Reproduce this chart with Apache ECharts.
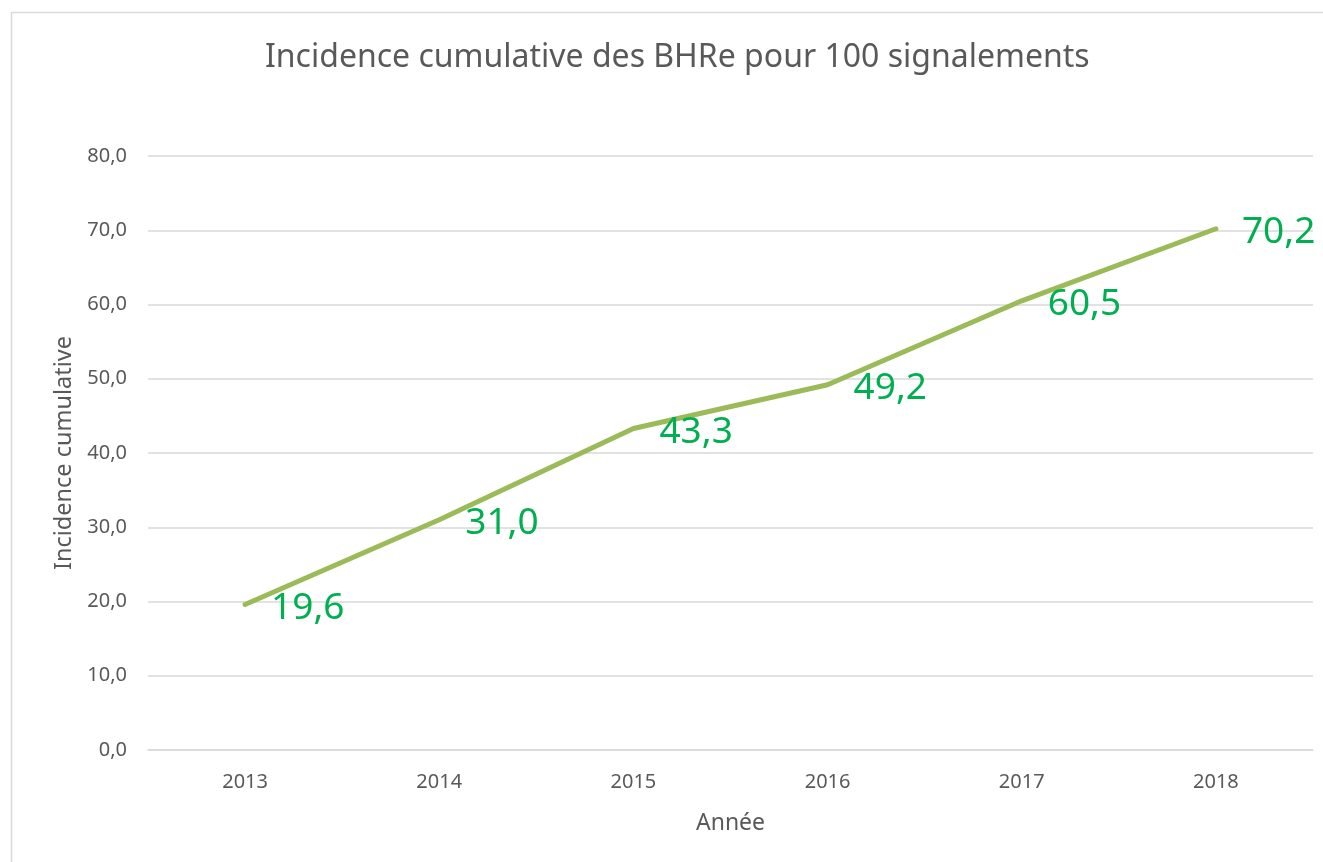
<!DOCTYPE html>
<html><head><meta charset="utf-8">
<script src="https://cdn.jsdelivr.net/npm/echarts@6/dist/echarts.min.js"></script>
<style>html,body{margin:0;padding:0;background:#fff}#c{width:1323px;height:862px}</style>
</head><body><div id="c"></div>
<script>
const categories = ['2013','2014','2015','2016','2017','2018'];
const values = [19.6, 31.0, 43.3, 49.2, 60.5, 70.2];
const yTicks = { min: 0, max: 80, interval: 10 };
const titleText = 'Incidence cumulative des BHRe pour 100 signalements';
const xName = 'Année';
const yName = 'Incidence cumulative';

const fr = v => Number(v).toFixed(1).replace('.', ',');
const chart = echarts.init(document.getElementById('c'));
chart.setOption({
  animation: false,
  textStyle: { fontFamily: 'Noto Sans' },
  graphic: [{ type: 'rect', shape: { x: 11.5, y: 12.5, width: 1400, height: 900 },
    style: { fill: 'none', stroke: '#D9D9D9', lineWidth: 1.5 }, silent: true }],
  title: { text: titleText, left: 260, top: 37,
    textStyle: { fontFamily: 'Noto Sans', fontSize: 32, fontWeight: 'normal', color: '#595959' } },
  grid: { left: 148, right: 10, top: 156, bottom: 112 },
  xAxis: { type: 'category', data: categories, boundaryGap: true,
    name: xName, nameLocation: 'middle', nameGap: 62,
    nameTextStyle: { fontSize: 23, color: '#595959' },
    axisLine: { lineStyle: { color: '#D9D9D9', width: 1.5 } },
    axisTick: { show: false },
    axisLabel: { fontSize: 20, color: '#595959', margin: 22 } },
  yAxis: { type: 'value', min: yTicks.min, max: yTicks.max, interval: yTicks.interval,
    name: yName, nameLocation: 'middle', nameGap: 72, nameRotate: 90,
    nameTextStyle: { fontSize: 23.5, color: '#595959' },
    axisLine: { show: false }, axisTick: { show: false },
    splitLine: { lineStyle: { color: '#D9D9D9', width: 1.5 } },
    axisLabel: { fontSize: 20, color: '#595959', margin: 21, formatter: fr } },
  series: [{ type: 'line', data: values, showSymbol: true, symbol: 'circle', symbolSize: 2,
    itemStyle: { color: '#9BBB59' },
    lineStyle: { color: '#9BBB59', width: 5, cap: 'round' },
    label: { show: true, position: 'right', offset: [20, 4], fontSize: 37,
      color: '#00B050', formatter: p => fr(p.value) } }]
});
</script></body></html>
